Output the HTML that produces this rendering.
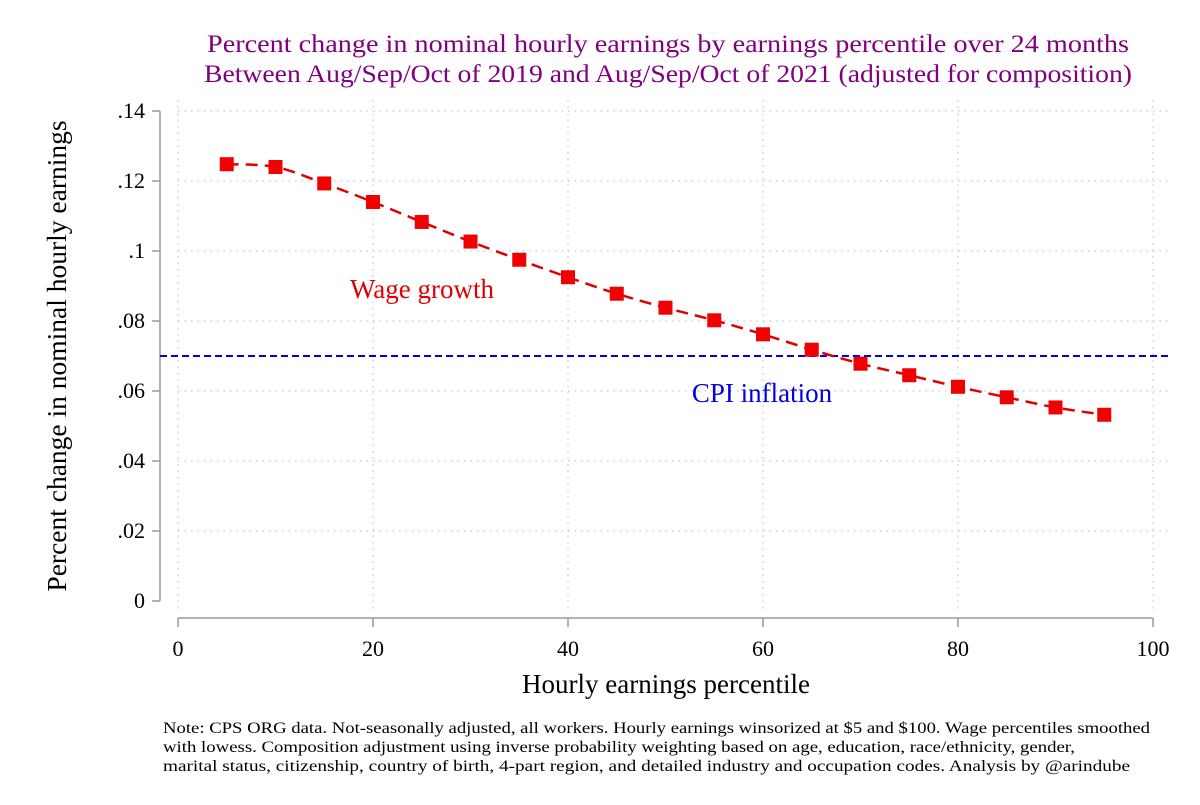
<!DOCTYPE html>
<html><head><meta charset="utf-8"><style>
body{margin:0;background:#fff}
svg text{font-family:"Liberation Serif",serif}
</style></head><body>
<svg id="chart" width="1200" height="800" viewBox="0 0 1200 800">
<text x="668" y="52" text-anchor="middle" font-size="25" fill="#800080" textLength="922" lengthAdjust="spacingAndGlyphs">Percent change in nominal hourly earnings by earnings percentile over 24 months</text>
<text x="668" y="82" text-anchor="middle" font-size="25" fill="#800080" textLength="928" lengthAdjust="spacingAndGlyphs">Between Aug/Sep/Oct of 2019 and Aug/Sep/Oct of 2021 (adjusted for composition)</text>
<g id="grid"></g><g id="axes"></g><g id="marks"></g>
<text x="422" y="298" text-anchor="middle" font-size="27" fill="#e00000">Wage growth</text>
<text x="762" y="402" text-anchor="middle" font-size="27" fill="#0000e0">CPI inflation</text>
<text transform="translate(66,356) rotate(-90)" text-anchor="middle" font-size="27.5">Percent change in nominal hourly earnings</text>
<text x="666" y="693" text-anchor="middle" font-size="27">Hourly earnings percentile</text>
<g font-size="16">
<text x="163" y="733" textLength="987" lengthAdjust="spacingAndGlyphs">Note: CPS ORG data. Not-seasonally adjusted, all workers. Hourly earnings winsorized at $5 and $100. Wage percentiles smoothed</text>
<text x="163" y="752" textLength="912" lengthAdjust="spacingAndGlyphs">with lowess. Composition adjustment using inverse probability weighting based on age, education, race/ethnicity, gender,</text>
<text x="163" y="771" textLength="967" lengthAdjust="spacingAndGlyphs">marital status, citizenship, country of birth, 4-part region, and detailed industry and occupation codes. Analysis by @arindube</text>
</g>
</svg>
<script>
const percentiles=[5,10,15,20,25,30,35,40,45,50,55,60,65,70,75,80,85,90,95];
const wageGrowth=[.1248,.124,.1193,.114,.1083,.1027,.0975,.0925,.0878,.0838,.0802,.0762,.0718,.0678,.0645,.0612,.0582,.0553,.0532];
const cpiInflation=.07;
const yTicks=[0,.02,.04,.06,.08,.1,.12,.14];
const yTickLabels=["0",".02",".04",".06",".08",".1",".12",".14"];
const xTicks=[0,20,40,60,80,100];
const NS="http://www.w3.org/2000/svg";
const X=v=>178+v*9.75, Y=v=>601-v*3500;
function mk(p,t,a){const e=document.createElementNS(NS,t);for(const k in a)e.setAttribute(k,a[k]);p.appendChild(e);return e;}
const grid=document.getElementById('grid'),axes=document.getElementById('axes'),marks=document.getElementById('marks');
yTicks.forEach((v,i)=>{
 if(v>0){const g=mk(grid,'line',{x1:178,x2:1172,y1:Y(v),y2:Y(v),stroke:'#bbb','stroke-dasharray':'1.5 5'});
 
 }
 mk(axes,'line',{x1:152,x2:160,y1:Y(v),y2:Y(v),stroke:'#999','stroke-width':1.5});
 const t=mk(axes,'text',{x:145,y:Y(v)+7,'text-anchor':'end','font-size':22});t.textContent=yTickLabels[i];
 
 
});
xTicks.forEach(v=>{
 const g=mk(grid,'line',{x1:X(v),x2:X(v),y1:100,y2:610,stroke:'#bbb','stroke-dasharray':'1.5 5'});
 
 
 mk(axes,'line',{x1:X(v),x2:X(v),y1:618,y2:627,stroke:'#999','stroke-width':1.5});
 const t=mk(axes,'text',{x:X(v),y:656,'text-anchor':'middle','font-size':22});t.textContent=v;
 
 
});
mk(axes,'line',{x1:160,x2:160,y1:Y(.14),y2:Y(0),stroke:'#999','stroke-width':1.5});
mk(axes,'line',{x1:X(0),x2:X(100),y1:618,y2:618,stroke:'#999','stroke-width':1.5});
const cpi=mk(marks,'line',{x1:160,x2:1172,y1:Y(cpiInflation),y2:Y(cpiInflation),stroke:'#0000e0','stroke-width':2,'stroke-dasharray':'7 4'});


const pts=percentiles.map((p,i)=>[X(p),Y(wageGrowth[i])]);
let d='M'+pts[0][0]+','+pts[0][1];
for(let i=0;i<pts.length-1;i++){const p0=pts[Math.max(0,i-1)],p1=pts[i],p2=pts[i+1],p3=pts[Math.min(pts.length-1,i+2)];
 d+=` C${p1[0]+(p2[0]-p0[0])/6},${p1[1]+(p2[1]-p0[1])/6} ${p2[0]-(p3[0]-p1[0])/6},${p2[1]-(p3[1]-p1[1])/6} ${p2[0]},${p2[1]}`;}
const line=mk(marks,'path',{d:d,fill:'none',stroke:'#e00000','stroke-width':2.5,'stroke-dasharray':'12 7'});


pts.forEach(p=>{const r=mk(marks,'rect',{x:p[0]-7,y:p[1]-7,width:14,height:14,fill:'#f00000'});
 
 });
</script>
</body></html>
